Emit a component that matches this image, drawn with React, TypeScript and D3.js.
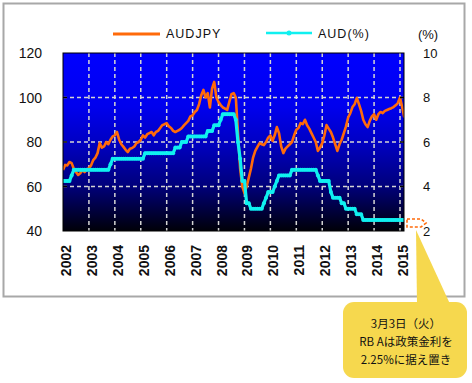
import React from 'react';
import * as d3 from 'd3';

const START_YEAR = 2002;
const yearLabels = ['2002', '2003', '2004', '2005', '2006', '2007', '2008', '2009', '2010', '2011', '2012', '2013', '2014', '2015'];
const leftTicks = [40, 60, 80, 100, 120];
const rightTicks = [2, 4, 6, 8, 10];
const gridLeft = [60, 80, 100];

// AUDJPY monthly, Jan 2002 .. Mar 2015
const audjpy2002 = [67.4, 69.7, 69.5, 71, 70.5, 68, 66.5, 65.2, 66, 67.4, 66.5, 67.5];
const audjpy2003 = [68.3, 69.5, 71.9, 73, 75, 79.5, 77.5, 78, 80, 79, 81, 82.5];
const audjpy2004 = [83, 84.5, 81, 79, 77.8, 76.5, 75.5, 77, 77.3, 78, 79.5, 80];
const audjpy2005 = [81, 83, 82, 83.5, 84, 84.5, 83, 84.5, 85, 86.3, 87.6, 88];
const audjpy2006 = [88.5, 87, 86.3, 85, 84.5, 85, 85.5, 86.3, 87.5, 88.5, 89.5, 91.5];
const audjpy2007 = [92, 93.5, 94.4, 97, 101, 103.4, 100, 102, 95.5, 104, 107, 100];
const audjpy2008 = [98, 96.6, 95.5, 95, 94.4, 98, 101.5, 102, 100, 84, 68, 60];
const audjpy2009 = [57, 60, 64, 68, 73, 76, 77.8, 79.5, 79, 78.6, 80, 82];
const audjpy2010 = [83, 80.5, 83, 86.7, 84, 78, 75, 77, 78, 79, 80, 83];
const audjpy2011 = [85.5, 86.3, 88.5, 88, 90, 87.5, 86, 84, 82, 80, 76, 77.5];
const audjpy2012 = [79.5, 83, 87.6, 86, 84.5, 82, 79, 76, 79, 81, 84, 87];
const audjpy2013 = [91, 93, 95.7, 97, 99.8, 97, 94, 90, 88, 86.7, 89.5, 91.5];
const audjpy2014 = [92.5, 90, 92.5, 93.5, 93, 94, 94.4, 94.8, 95.2, 95.7, 96.5, 97.5];
const audjpy2015 = [100, 95.7, 91];

// RBA cash rate (%) monthly, Jan 2002 .. Mar 2015
const rate2002 = [4.25, 4.25, 4.25, 4.25, 4.5, 4.75, 4.75, 4.75, 4.75, 4.75, 4.75, 4.75];
const rate2003 = [4.75, 4.75, 4.75, 4.75, 4.75, 4.75, 4.75, 4.75, 4.75, 4.75, 5.0, 5.25];
const rate2004 = [5.25, 5.25, 5.25, 5.25, 5.25, 5.25, 5.25, 5.25, 5.25, 5.25, 5.25, 5.25];
const rate2005 = [5.25, 5.25, 5.5, 5.5, 5.5, 5.5, 5.5, 5.5, 5.5, 5.5, 5.5, 5.5];
const rate2006 = [5.5, 5.5, 5.5, 5.5, 5.75, 5.75, 5.75, 6, 6, 6, 6.25, 6.25];
const rate2007 = [6.25, 6.25, 6.25, 6.25, 6.25, 6.25, 6.25, 6.5, 6.5, 6.5, 6.75, 6.75];
const rate2008 = [6.75, 7, 7.25, 7.25, 7.25, 7.25, 7.25, 7.25, 7, 6, 5.25, 4.25];
const rate2009 = [4.25, 3.25, 3.25, 3, 3, 3, 3, 3, 3, 3.25, 3.5, 3.75];
const rate2010 = [3.75, 3.75, 4, 4.25, 4.5, 4.5, 4.5, 4.5, 4.5, 4.5, 4.75, 4.75];
const rate2011 = [4.75, 4.75, 4.75, 4.75, 4.75, 4.75, 4.75, 4.75, 4.75, 4.75, 4.5, 4.25];
const rate2012 = [4.25, 4.25, 4.25, 4.25, 3.75, 3.5, 3.5, 3.5, 3.5, 3.25, 3.25, 3];
const rate2013 = [3, 3, 3, 3, 2.75, 2.75, 2.75, 2.5, 2.5, 2.5, 2.5, 2.5];
const rate2014 = [2.5, 2.5, 2.5, 2.5, 2.5, 2.5, 2.5, 2.5, 2.5, 2.5, 2.5, 2.5];
const rate2015 = [2.5, 2.5, 2.5];

const audjpy = [
  ...audjpy2002, ...audjpy2003, ...audjpy2004, ...audjpy2005, ...audjpy2006, ...audjpy2007,
  ...audjpy2008, ...audjpy2009, ...audjpy2010, ...audjpy2011, ...audjpy2012, ...audjpy2013,
  ...audjpy2014, ...audjpy2015,
];
const audRate = [
  ...rate2002, ...rate2003, ...rate2004, ...rate2005, ...rate2006, ...rate2007,
  ...rate2008, ...rate2009, ...rate2010, ...rate2011, ...rate2012, ...rate2013,
  ...rate2014, ...rate2015,
];

const legendNames = ['AUDJPY', 'AUD(%)'];
const calloutLines = ['3月3日（火）', 'RB Aは政策金利を', '2.25%に据え置き'];

const W = 472;
const H = 383;
const plot = { left: 63, top: 53, right: 404, bottom: 231 };
const ORANGE = '#FF6A0A';
const CYAN = '#10F0F0';
const FONT = '"Liberation Sans", Arial, sans-serif';

export default function App() {
  const x = d3.scaleLinear().domain([2002, 2015]).range([63, 400]);
  const yL = d3.scaleLinear().domain([40, 120]).range([plot.bottom, plot.top]);
  const yR = d3.scaleLinear().domain([2, 10]).range([plot.bottom, plot.top]);
  const t = (i: number) => START_YEAR + i / 12;

  const lineL = d3.line<number>().x((_, i) => x(t(i))).y((d) => yL(d));
  const lineR = d3.line<number>().x((_, i) => x(t(i))).y((d) => yR(d));

  const pw = plot.right - plot.left;
  const ph = plot.bottom - plot.top;

  return (
    <div style={{ position: 'absolute', left: 0, top: 0 }}>
      <svg width={W} height={H} xmlns="http://www.w3.org/2000/svg" style={{ display: 'block' }}>
        <defs>
          <linearGradient id="bg" x1="0" y1="0" x2="0" y2="1">
            <stop offset="0" stopColor="#0000FF" />
            <stop offset="0.3" stopColor="#0000EE" />
            <stop offset="0.5" stopColor="#0000C4" />
            <stop offset="0.75" stopColor="#00007A" />
            <stop offset="1" stopColor="#000008" />
          </linearGradient>
          <clipPath id="pc">
            <rect x={plot.left} y={plot.top} width={pw} height={ph} />
          </clipPath>
        </defs>
        <rect x={0} y={0} width={W} height={H} fill="#fff" />
        {/* outer frame */}
        <rect x={3.5} y={3.5} width={461} height={293} fill="#fff" stroke="#a8a8a8" strokeWidth={2} />

        {/* plot background */}
        <rect x={plot.left} y={plot.top} width={pw} height={ph} fill="url(#bg)" />

        {/* grid */}
        {gridLeft.map((v) => (
          <line key={'h' + v} x1={plot.left} x2={plot.right} y1={yL(v)} y2={yL(v)}
            stroke="#d4d4d4" strokeWidth={1.5} strokeDasharray="4,3" />
        ))}
        {yearLabels.slice(1).map((lab) => (
          <line key={'v' + lab} x1={x(+lab)} x2={x(+lab)} y1={plot.top} y2={plot.bottom}
            stroke="#d4d4d4" strokeWidth={1.5} strokeDasharray="4,3" />
        ))}

        {/* series */}
        <g clipPath="url(#pc)">
          <path d={lineL(audjpy) || ''} fill="none" stroke={ORANGE} strokeWidth={2.6} strokeLinejoin="round" />
          <path d={lineR(audRate) || ''} fill="none" stroke={CYAN} strokeWidth={3.2} strokeLinejoin="round" />
          {audRate.map((d, i) => (
            <circle key={i} cx={x(t(i))} cy={yR(d)} r={2} fill={CYAN} />
          ))}
        </g>

        {/* plot border */}
        <rect x={plot.left} y={plot.top} width={pw} height={ph} fill="none" stroke="#000" strokeWidth={1} />
        {gridLeft.map((v) => (
          <g key={'t' + v}>
            <line x1={plot.left} x2={plot.left + 4} y1={yL(v)} y2={yL(v)} stroke="#000" strokeWidth={1.5} />
            <line x1={plot.right - 4} x2={plot.right} y1={yL(v)} y2={yL(v)} stroke="#000" strokeWidth={1.5} />
          </g>
        ))}

        {/* left axis labels */}
        {leftTicks.map((v) => (
          <text key={'l' + v} x={42} y={yL(v)} textAnchor="end" dominantBaseline="central"
            fontFamily={FONT} fontSize={14} fill="#111">{v}</text>
        ))}
        {/* right axis labels */}
        {rightTicks.map((v) => (
          <text key={'r' + v} x={423} y={yR(v)} textAnchor="start" dominantBaseline="central"
            fontFamily={FONT} fontSize={13} fill="#111">{v}</text>
        ))}
        <text x={428} y={34} textAnchor="middle" dominantBaseline="central" fontFamily={FONT}
          fontSize={13} fill="#111">(%)</text>

        {/* x labels */}
        {yearLabels.map((lab) => (
          <text key={'x' + lab} transform={`translate(${x(+lab) + 3},245) rotate(-90)`} textAnchor="end"
            dominantBaseline="central" fontFamily={FONT} fontSize={14} fontWeight="bold" fill="#111">{lab}</text>
        ))}

        {/* legend */}
        <line x1={113} x2={160} y1={34} y2={34} stroke={ORANGE} strokeWidth={3} />
        <text x={166} y={34} dominantBaseline="central" fontFamily={FONT} fontSize={12.5}
          letterSpacing={1} fill="#111">{legendNames[0]}</text>
        <line x1={266} x2={312} y1={33} y2={33} stroke={CYAN} strokeWidth={2.5} />
        <circle cx={289} cy={33} r={2.5} fill={CYAN} />
        <text x={318} y={34} dominantBaseline="central" fontFamily={FONT} fontSize={12.5}
          letterSpacing={1} fill="#111">{legendNames[1]}</text>

        {/* dashed arrow marker */}
        <path d="M407,219 L421,219 L426,223 L421,227 L407,227 Z" fill="none" stroke={ORANGE}
          strokeWidth={1.6} strokeDasharray="3,2" />

        {/* callout */}
        <path d="M416,230 L450,304 L417,304 Z" fill="#F6D84E" />
        <rect x={343} y={302} width={124} height={76} rx={11} fill="#F6D84E" />
        {calloutLines.map((s, i) => (
          <text key={'c' + i} x={406} y={323 + i * 18} textAnchor="middle" dominantBaseline="central"
            fontFamily='"Noto Sans CJK JP", sans-serif' fontSize={11.5} fill="#111">{s}</text>
        ))}
      </svg>
    </div>
  );
}
